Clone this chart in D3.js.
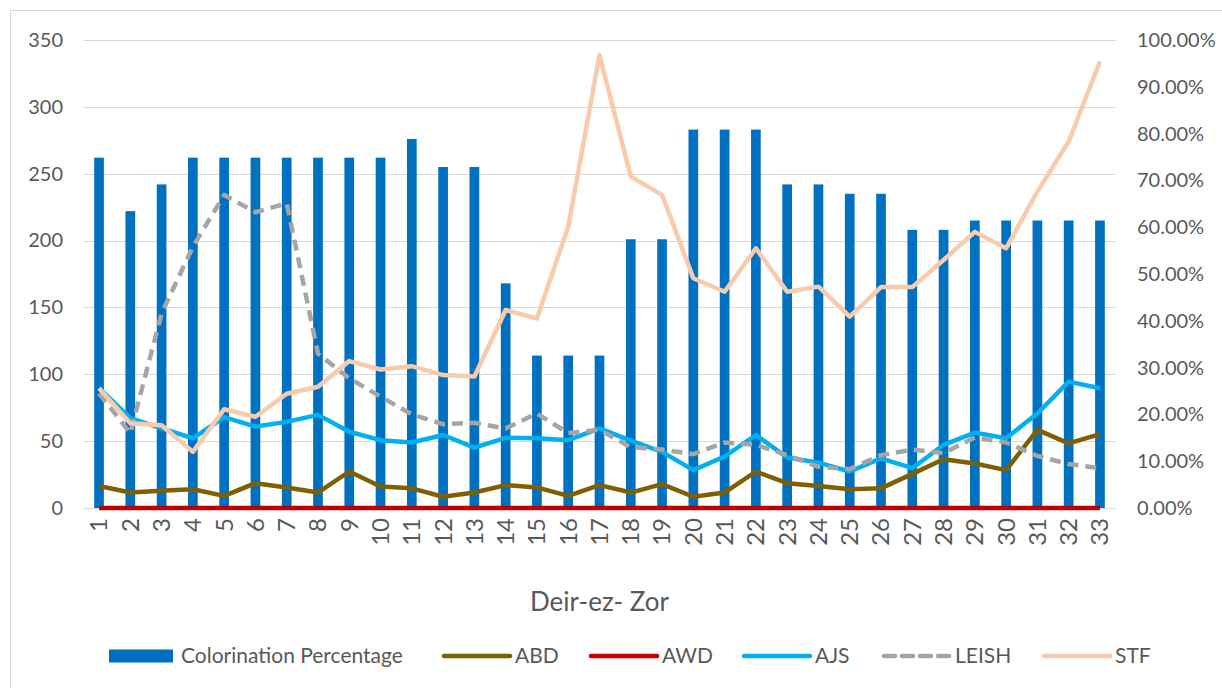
<!DOCTYPE html>
<html lang="en">
  <head>
    <meta charset="utf-8">
    <title>Deir-ez- Zor</title>
    <style type="text/css">
      body { margin: 0; background-color: #ffffff; }
      svg text { font-family: Lato, "Open Sans", sans-serif; fill: #595959; }
    </style>
    <script src="https://d3js.org/d3.v7.min.js"></script>
  </head>
  <body>
    <div id="my_dataviz"></div>

    <script>

    // categories on the x axis
    var sites = ["1","2","3","4","5","6","7","8","9","10","11","12","13","14","15","16","17",
                 "18","19","20","21","22","23","24","25","26","27","28","29","30","31","32","33"];

    // bars, left axis
    var coloration = [262,222,242,262,262,262,262,262,262,262,276,255,255,168,114,114,114,
                      201,201,283,283,283,242,242,235,235,208,208,215,215,215,215,215];

    // lines, right axis (percent)
    var abd = [4.7,3.3,3.7,4.0,2.6,5.3,4.4,3.3,7.8,4.6,4.2,2.4,3.3,4.9,4.4,2.6,4.9,
               3.3,5.1,2.4,3.3,7.8,5.3,4.7,4.0,4.2,7.3,10.4,9.5,8.1,16.7,13.8,15.8];
    var awd = [0,0,0,0,0,0,0,0,0,0,0,0,0,0,0,0,0,
               0,0,0,0,0,0,0,0,0,0,0,0,0,0,0,0];
    var ajs = [25.6,19.2,17.0,14.9,19.4,17.4,18.4,19.9,16.3,14.5,14.0,15.6,12.9,15.0,14.9,14.5,17.0,
               14.4,12.0,8.1,11.0,15.6,10.8,9.7,7.8,10.6,8.5,13.5,16.1,14.9,20.2,27.0,25.6];
    var leish = [24.5,16.0,41.6,55.8,66.9,63.2,65.1,33.0,27.7,23.8,20.0,17.9,18.2,17.0,20.2,16.0,16.7,
                 13.0,12.5,11.5,14.0,13.5,11.3,8.8,8.3,11.3,12.5,11.7,15.1,14.0,11.1,9.4,8.5];
    var stf = [25.6,18.1,17.7,12.0,21.1,19.5,24.4,25.9,31.4,29.6,30.3,28.4,28.1,42.3,40.5,60.1,96.8,
               70.8,66.9,49.1,46.2,55.5,46.2,47.3,40.9,47.2,47.2,53.0,59.0,55.5,67.6,78.3,95.4];

    var leftTicks = [0,50,100,150,200,250,300,350];
    var rightTicks = [0,0.1,0.2,0.3,0.4,0.5,0.6,0.7,0.8,0.9,1.0];

    var series = [
      {name: "ABD",   values: abd,   color: "#7f6000", dash: null},
      {name: "AWD",   values: awd,   color: "#c00000", dash: null},
      {name: "AJS",   values: ajs,   color: "#00b0f0", dash: null},
      {name: "LEISH", values: leish, color: "#a5a5a5", dash: "11,7"},
      {name: "STF",   values: stf,   color: "#f8cbad", dash: null}
    ];

    var width = 1222, height = 688;
    var plot = {left: 83.4, right: 1115.6, top: 40, bottom: 508};

    var svg = d3.select("#my_dataviz")
      .append("svg")
        .attr("width", width)
        .attr("height", height);

    // chart frame
    svg.append("rect")
      .attr("x", 10.5).attr("y", 10.5)
      .attr("width", 1240).attr("height", 700)
      .attr("fill", "none")
      .attr("stroke", "#d9d9d9");

    var x = d3.scaleBand()
      .domain(sites)
      .range([plot.left, plot.right])
      .paddingInner(0.69)
      .paddingOuter(0.345);

    var yLeft = d3.scaleLinear().domain([0, 350]).range([plot.bottom, plot.top]);
    var yRight = d3.scaleLinear().domain([0, 1]).range([plot.bottom, plot.top]);

    // gridlines
    svg.append("g")
      .selectAll("line")
      .data(leftTicks)
      .enter()
      .append("line")
        .attr("x1", plot.left).attr("x2", plot.right)
        .attr("y1", function(d){ return Math.round(yLeft(d)) + 0.5 })
        .attr("y2", function(d){ return Math.round(yLeft(d)) + 0.5 })
        .attr("stroke", "#d9d9d9")
        .attr("stroke-width", 1.2);

    // left axis labels
    var axL = svg.append("g")
      .attr("transform", "translate(63,0)")
      .call(d3.axisLeft(yLeft).tickValues(leftTicks).tickSize(0).tickPadding(0));
    axL.select(".domain").remove();
    axL.selectAll("text").attr("font-size", "20px").style("font-family", null).attr("fill", "#595959");

    // right axis labels
    var axR = svg.append("g")
      .attr("transform", "translate(1137,0)")
      .call(d3.axisRight(yRight).tickValues(rightTicks).tickFormat(d3.format(".2%")).tickSize(0).tickPadding(0));
    axR.select(".domain").remove();
    axR.selectAll("text").attr("font-size", "20px").style("font-family", null).attr("fill", "#595959");

    // x axis labels, rotated
    svg.append("g")
      .selectAll("text")
      .data(sites)
      .enter()
      .append("text")
        .attr("transform", function(d){ return "translate(" + (x(d) + x.bandwidth()/2) + ",518) rotate(-90)" })
        .attr("text-anchor", "end")
        .attr("dy", "0.35em")
        .attr("font-size", "24px")
        .text(function(d){ return d });

    // bars
    svg.append("g")
      .selectAll("rect")
      .data(coloration)
      .enter()
      .append("rect")
        .attr("x", function(d, i){ return x(sites[i]) })
        .attr("y", function(d){ return yLeft(d) })
        .attr("width", x.bandwidth())
        .attr("height", function(d){ return yLeft(0) - yLeft(d) })
        .attr("fill", "#0070c0");

    // lines
    var line = d3.line()
      .x(function(d, i){ return x(sites[i]) + x.bandwidth()/2 })
      .y(function(d){ return yRight(d / 100) });

    svg.append("g")
      .selectAll("path")
      .data(series)
      .enter()
      .append("path")
        .attr("d", function(d){ return line(d.values) })
        .attr("fill", "none")
        .attr("stroke", function(d){ return d.color })
        .attr("stroke-width", 4.5)
        .attr("stroke-linejoin", "round")
        .attr("stroke-dasharray", function(d){ return d.dash });

    // axis title
    svg.append("text")
      .attr("x", (plot.left + plot.right) / 2)
      .attr("y", 602)
      .attr("dy", "0.35em")
      .attr("text-anchor", "middle")
      .attr("font-size", "26px")
      .text("Deir-ez- Zor");

    // legend
    var legend = [
      {name: "Colorination Percentage", color: "#0070c0", bar: true, x: 109},
      {name: "ABD",   color: "#7f6000", x: 444},
      {name: "AWD",   color: "#c00000", x: 591},
      {name: "AJS",   color: "#00b0f0", x: 744},
      {name: "LEISH", color: "#a5a5a5", dash: "11,7", x: 884},
      {name: "STF",   color: "#f8cbad", x: 1044}
    ];

    var lg = svg.append("g")
      .selectAll("g")
      .data(legend)
      .enter()
      .append("g")
        .attr("transform", function(d){ return "translate(" + d.x + ",656)" });

    lg.filter(function(d){ return d.bar })
      .append("rect")
        .attr("x", 0).attr("y", -6.5)
        .attr("width", 64).attr("height", 13)
        .attr("fill", function(d){ return d.color });

    lg.filter(function(d){ return !d.bar })
      .append("line")
        .attr("x1", 0).attr("x2", 66)
        .attr("stroke", function(d){ return d.color })
        .attr("stroke-width", 4.5)
        .attr("stroke-linecap", "round")
        .attr("stroke-dasharray", function(d){ return d.dash || null });

    lg.append("text")
      .attr("x", function(d){ return d.bar ? 72 : 71 })
      .attr("dy", "0.35em")
      .attr("font-size", "21px")
      .text(function(d){ return d.name });

    </script>
  </body>
</html>
